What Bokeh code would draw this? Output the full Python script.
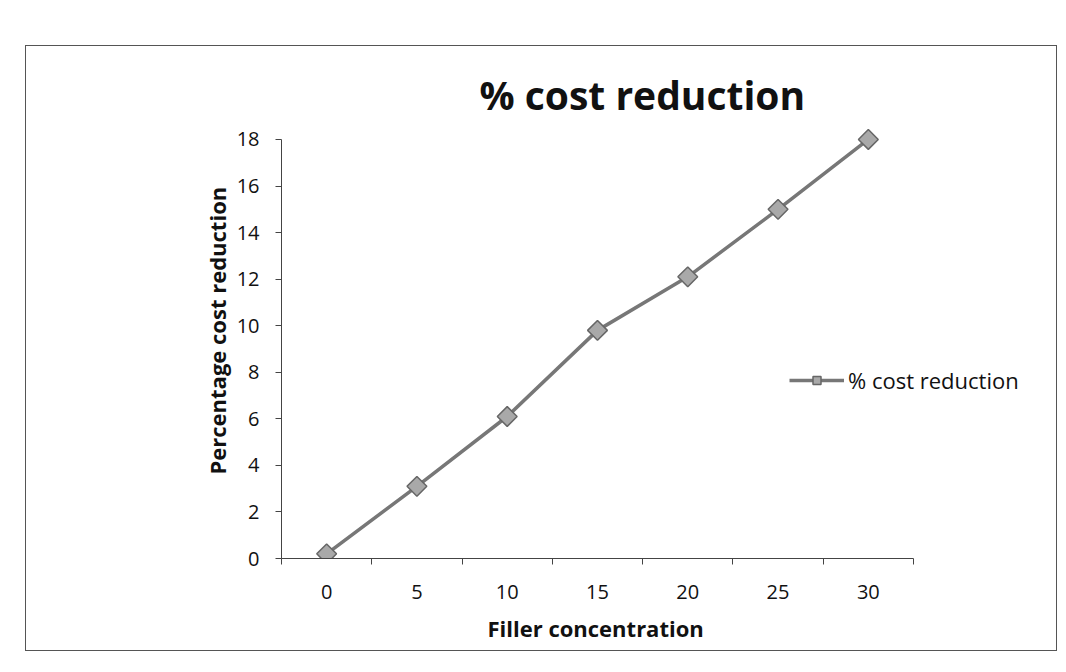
import numpy as np
from bokeh.plotting import figure
from bokeh.models import (FixedTicker, Legend, LegendItem, Range1d,
                          ColumnDataSource, Title)
from bokeh.embed import file_html
from bokeh.resources import INLINE

# ---- data ----
filler = [0, 5, 10, 15, 20, 25, 30]
cost_reduction = [0.2, 3.1, 6.1, 9.8, 12.1, 15.0, 18.0]
x_tick_labels = ["0", "5", "10", "15", "20", "25", "30"]
y_ticks = [0, 2, 4, 6, 8, 10, 12, 14, 16, 18]
series_name = "% cost reduction"
chart_title = "% cost reduction"
x_title = "Filler concentration"
y_title = "Percentage cost reduction"

FONT = "Open Sans"

src = ColumnDataSource(dict(x=filler, y=cost_reduction))

p = figure(width=1032, height=606, output_backend="svg", toolbar_location=None,
           x_range=Range1d(-2.5, 39.59), y_range=Range1d(0, 18.515),
           min_border_left=255, min_border_right=17,
           min_border_top=81, min_border_bottom=94,
           background_fill_color="white", border_fill_color="white")
p.margin = (45, 0, 0, 25)
p.styles = {"border": "1.5px solid #555555"}
p.outline_line_color = None
p.grid.visible = False

# title
p.title = Title(text=chart_title, align="left", offset=198,
                text_font=FONT, text_font_size="39px", text_font_style="bold",
                text_color="#111111", standoff=13)

# x axis (category-style: labels at centers, tick marks between)
xa = p.xaxis[0]
xa.bounds = (-2.5, 32.5)
xa.ticker = FixedTicker(ticks=filler,
                        minor_ticks=[-2.5, 2.5, 7.5, 12.5, 17.5, 22.5, 27.5, 32.5])
xa.major_label_overrides = {v: s for v, s in zip(filler, x_tick_labels)}
xa.major_tick_line_alpha = 0
xa.major_tick_out = 0
xa.major_tick_in = 0
xa.minor_tick_out = 6
xa.minor_tick_in = 0
xa.minor_tick_line_color = "#444444"
xa.axis_line_color = "#444444"
xa.major_label_text_font = FONT
xa.major_label_text_font_size = "20px"
xa.major_label_text_color = "#111111"
xa.major_label_standoff = 20

# x axis title, centred under the axis line (not the wider frame)
p.add_layout(Title(text=x_title, align="left", offset=206,
                   text_font=FONT, text_font_size="22px", text_font_style="bold",
                   text_color="#111111", standoff=19), "below")

# y axis
ya = p.yaxis[0]
ya.bounds = (0, 18)
ya.ticker = FixedTicker(ticks=y_ticks, minor_ticks=[])
ya.major_tick_out = 6
ya.major_tick_in = 0
ya.major_tick_line_color = "#444444"
ya.axis_line_color = "#444444"
ya.major_label_text_font = FONT
ya.major_label_text_font_size = "20px"
ya.major_label_text_color = "#111111"
ya.major_label_standoff = 16

# y axis title, centred on the axis line
p.add_layout(Title(text=y_title, align="left", offset=84,
                   text_font=FONT, text_font_size="22px", text_font_style="bold",
                   text_color="#111111", standoff=4), "left")

# series
ln = p.line("x", "y", source=src, line_color="#777777", line_width=3.5)
mk = p.scatter("x", "y", source=src, marker="square", angle=np.pi / 4, size=14,
               fill_color="#a9a9a9", line_color="#666666", line_width=1.5)

legend = Legend(items=[LegendItem(label=series_name, renderers=[ln, mk])],
                location=(508, 163), padding=0, margin=0, spacing=0,
                glyph_width=55, glyph_height=20, label_standoff=4,
                label_text_font=FONT, label_text_font_size="22px",
                label_text_color="#111111",
                border_line_alpha=0, background_fill_alpha=0)
p.add_layout(legend, "center")

open("out.html", "w").write(file_html(p, INLINE))
